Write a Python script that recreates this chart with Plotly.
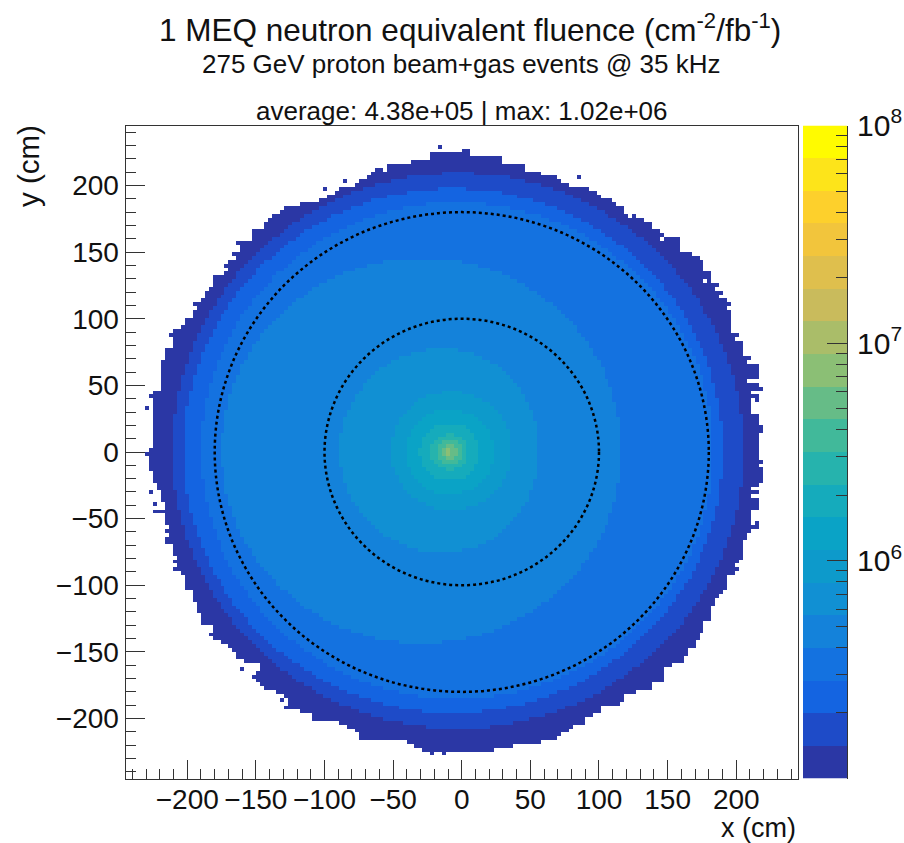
import numpy as np
import plotly.graph_objects as go

N_BINS = 170
X_MIN, X_MAX = -245.0, 245.0

# First and last filled x (cm) of each occupied row, from the top row downwards
ROW_LEFT = [
    1, -21, -22, -35, -52, -61, -64, -67, -74, -77,
    -89, -91, -97, -103, -116, -128, -130, -137, -139, -143,
    -143, -152, -152, -152, -164, -161, -161, -167, -164, -169,
    -172, -170, -172, -181, -181, -181, -184, -187, -187, -190,
    -196, -193, -196, -196, -199, -199, -202, -208, -211, -208,
    -208, -208, -214, -214, -214, -217, -219, -217, -217, -217,
    -217, -217, -217, -223, -226, -223, -223, -223, -223, -223,
    -223, -223, -223, -223, -223, -223, -223, -223, -226, -226,
    -226, -226, -226, -226, -224, -224, -224, -221, -221, -218,
    -218, -219, -215, -215, -223, -215, -215, -215, -212, -215,
    -212, -215, -215, -209, -209, -209, -206, -209, -206, -209,
    -203, -199, -199, -199, -199, -196, -196, -194, -191, -191,
    -191, -188, -190, -190, -181, -179, -184, -181, -175, -169,
    -167, -164, -164, -158, -145, -145, -148, -151, -148, -145,
    -143, -134, -128, -125, -125, -128, -116, -109, -109, -89,
    -83, -77, -74, -74, -40, -32, -26,
]
ROW_RIGHT = [
    4, 4, 28, 28, 45, 45, 55, 67, 70, 76,
    92, 93, 99, 112, 112, 118, 118, 124, 130, 138,
    138, 144, 147, 157, 157, 157, 157, 166, 172, 174,
    174, 174, 180, 180, 180, 186, 183, 189, 186, 193,
    195, 193, 195, 195, 195, 195, 195, 195, 201, 198,
    204, 204, 204, 204, 210, 207, 214, 214, 214, 214,
    207, 214, 219, 210, 216, 216, 210, 210, 210, 216,
    216, 216, 219, 219, 216, 214, 216, 216, 216, 216,
    216, 219, 216, 219, 219, 219, 219, 216, 210, 216,
    210, 216, 216, 214, 210, 210, 210, 214, 214, 210,
    207, 207, 204, 204, 204, 204, 204, 201, 201, 201,
    198, 193, 193, 193, 193, 189, 186, 183, 183, 180,
    180, 180, 180, 175, 175, 175, 172, 172, 169, 169,
    163, 163, 159, 159, 150, 147, 147, 147, 146, 136,
    136, 124, 118, 118, 115, 99, 99, 94, 87, 87,
    79, 76, 70, 67, 57, 36, 22,
]
FIRST_ROW = 6

# Isolated filled bins outside the edge, and empty bins inside it (x, y in cm)
STRAY_X = [-15.5, -84.5, -99, -228.5, -228, 86, 97, -225, -222, -182, -159, -132, -22, -12]
STRAY_Y = [228, 203, 197, 33, -1, 206, 194, -30, -39, -137, -163, -186, -226, -226]
HOLE_X = [-57, -84, 110, 122, 145, 176, 211, 200, 211]
HOLE_Y = [212, 201, 188, 177, 160, 128, 39, -84, -53]

LEFT_R = [0, 30, 48, 85, 171, 186, 199, 207, 225]
LEFT_LOG = [6.20, 6.05, 5.90, 5.75, 5.60, 5.45, 5.30, 5.15, 5.05]
RIGHT_R = [0, 26, 40, 60, 120, 187, 194, 209, 225]
RIGHT_LOG = [6.20, 6.05, 5.90, 5.75, 5.60, 5.45, 5.30, 5.15, 5.05]
PEAK_R = [0, 3, 6, 9, 12, 18, 25, 32]
PEAK_LOG = [6.95, 6.75, 6.60, 6.50, 6.38, 6.25, 6.15, 6.05]
DISK_CENTRE = (-4.0, 1.0)
PEAK_CENTRE = (-9.0, 0.0)

# Palette and scale
LOG_MIN, LOG_MAX = 5.0, 8.0
BAND_COLORS = [
    "#2b37a5", "#1e4bc8", "#1464e1", "#1472e0", "#1482da", "#1190d3", "#0d9acb",
    "#0aa3c6", "#15abbc", "#26b3ad", "#41b99a", "#66bc87", "#8bbf75", "#aabd69",
    "#c9bb5c", "#dfbf4d", "#f2c53c", "#fdd02c", "#fde41a", "#fffb00",
]
COLORBAR_MAJOR = [6, 7, 8]
COLORBAR_MINOR_MULT = [2, 3, 4, 5, 6, 7, 8, 9]
RING_RADII = [100, 180]
X_TICKS = [-200, -150, -100, -50, 0, 50, 100, 150, 200]
Y_TICKS = [-200, -150, -100, -50, 0, 50, 100, 150, 200]

TITLE_1 = "1 MEQ neutron equivalent fluence (cm<sup>-2</sup>/fb<sup>-1</sup>)"
TITLE_2 = "275 GeV proton beam+gas events @ 35 kHz"
TITLE_3 = "average: 4.38e+05 | max: 1.02e+06"

# ---- build the histogram ----
edges = np.linspace(X_MIN, X_MAX, N_BINS + 1)
centres = 0.5 * (edges[:-1] + edges[1:])
xx, yy = np.meshgrid(centres, centres)

dx, dy = xx - DISK_CENTRE[0], yy - DISK_CENTRE[1]
r_disk = np.hypot(dx, dy)
left_part = np.interp(r_disk, LEFT_R, LEFT_LOG)
right_part = np.interp(r_disk, RIGHT_R, RIGHT_LOG)
blend = 0.5 * (1 - dx / np.maximum(r_disk, 1e-6))
disk = blend * left_part + (1 - blend) * right_part
r_peak = np.hypot(xx - PEAK_CENTRE[0], yy - PEAK_CENTRE[1])
peak = np.interp(r_peak, PEAK_R, PEAK_LOG, right=0)
field = np.maximum(disk, peak)

mask = np.zeros_like(field, dtype=bool)
for i, (lo, hi) in enumerate(zip(ROW_LEFT, ROW_RIGHT)):
    row = N_BINS - 1 - (FIRST_ROW + i)
    mask[row] = (centres >= lo - 1.44) & (centres <= hi + 1.44)
for x, y in zip(STRAY_X, STRAY_Y):
    mask[np.searchsorted(edges, y) - 1, np.searchsorted(edges, x) - 1] = True
for x, y in zip(HOLE_X, HOLE_Y):
    mask[np.searchsorted(edges, y) - 1, np.searchsorted(edges, x) - 1] = False
z = np.where(mask, field, np.nan)

n_bands = len(BAND_COLORS)
colorscale = []
for i, c in enumerate(BAND_COLORS):
    colorscale += [[i / n_bands, c], [(i + 1) / n_bands, c]]

band_edges = np.linspace(LOG_MIN, LOG_MAX, n_bands + 1)
band_mid = 0.5 * (band_edges[:-1] + band_edges[1:])

W, H = 904, 843
L, R, T, B = 125.5, 798.0, 125.5, 778.5
FONT = "Liberation Sans"
LINE = "#333333"
INK = "#111111"

fig = go.Figure()
fig.add_trace(go.Heatmap(
    x=centres, y=centres, z=z, zmin=LOG_MIN, zmax=LOG_MAX, colorscale=colorscale,
    showscale=False, hoverongaps=False, xaxis="x", yaxis="y",
))
fig.add_trace(go.Heatmap(
    x=[0, 1], y=band_edges, z=band_mid.reshape(-1, 1), zmin=LOG_MIN, zmax=LOG_MAX,
    colorscale=colorscale, showscale=False, xaxis="x2", yaxis="y2",
))

minor_vals = [e + np.log10(m) for e in (5, 6, 7) for m in COLORBAR_MINOR_MULT]

axis_common = dict(
    automargin=False, showgrid=False, zeroline=False, showline=True, linecolor=LINE, linewidth=1,
    ticks="inside", ticklen=19, tickwidth=1, tickcolor=LINE, mirror=True, tickangle=0,
    tickfont=dict(family=FONT, size=28, color=INK),
)
fig.update_layout(
    template="none",
    width=W, height=H, autosize=False, margin=dict(l=0, r=0, t=0, b=0, pad=0),
    paper_bgcolor="white", plot_bgcolor="white", showlegend=False,
    font=dict(family=FONT, color=INK),
    xaxis=dict(
        domain=[L / W, R / W], range=[X_MIN, X_MAX], tickvals=X_TICKS, anchor="y",
        minor=dict(dtick=10, ticks="inside", ticklen=10, tickwidth=1, tickcolor=LINE, showgrid=False),
        ticklabelstandoff=-4, **axis_common,
    ),
    yaxis=dict(
        domain=[1 - B / H, 1 - T / H], range=[X_MIN, X_MAX], tickvals=Y_TICKS, anchor="x",
        minor=dict(dtick=10, ticks="inside", ticklen=10, tickwidth=1, tickcolor=LINE, showgrid=False),
        **axis_common,
    ),
    xaxis2=dict(domain=[803 / W, 847 / W], range=[0, 1], visible=False, anchor="y2", automargin=False),
    yaxis2=dict(
        automargin=False,
        domain=[1 - B / H, 1 - T / H], range=[LOG_MIN, LOG_MAX], anchor="x2", side="right",
        tickvals=COLORBAR_MAJOR, ticktext=[f"10<sup>{e}</sup>" for e in COLORBAR_MAJOR],
        minor=dict(tickvals=minor_vals, ticks="inside", ticklen=11, tickwidth=1, tickcolor=LINE, showgrid=False),
        showgrid=False, zeroline=False, showline=True, linecolor=LINE, linewidth=1,
        ticks="inside", ticklen=20, tickwidth=1, tickcolor=LINE, ticklabelstandoff=3,
        tickfont=dict(family=FONT, size=30, color=INK),
    ),
)
for rad in RING_RADII:
    fig.add_shape(type="circle", xref="x", yref="y", x0=-rad, x1=rad, y0=-rad, y1=rad,
                  line=dict(color="black", width=2.5, dash="3px,3px"))

def text(s, x, y, size, anchor="center", angle=0):
    fig.add_annotation(text=s, xref="paper", yref="paper", x=x / W, y=1 - y / H, showarrow=False,
                       xanchor=anchor, yanchor="middle", textangle=angle,
                       font=dict(family=FONT, size=size, color=INK))

text(TITLE_1, 470, 28, 31.5)
text(TITLE_2, 462, 64, 26)
text(TITLE_3, 462, 111, 26)
text("x (cm)", 798, 828, 27, anchor="right")
text("y (cm)", 28, 166, 29.5, angle=-90)

fig.write_html("out.html", config=dict(displayModeBar=False),
               post_script="document.body.style.margin='0';document.body.style.overflow='hidden';")
